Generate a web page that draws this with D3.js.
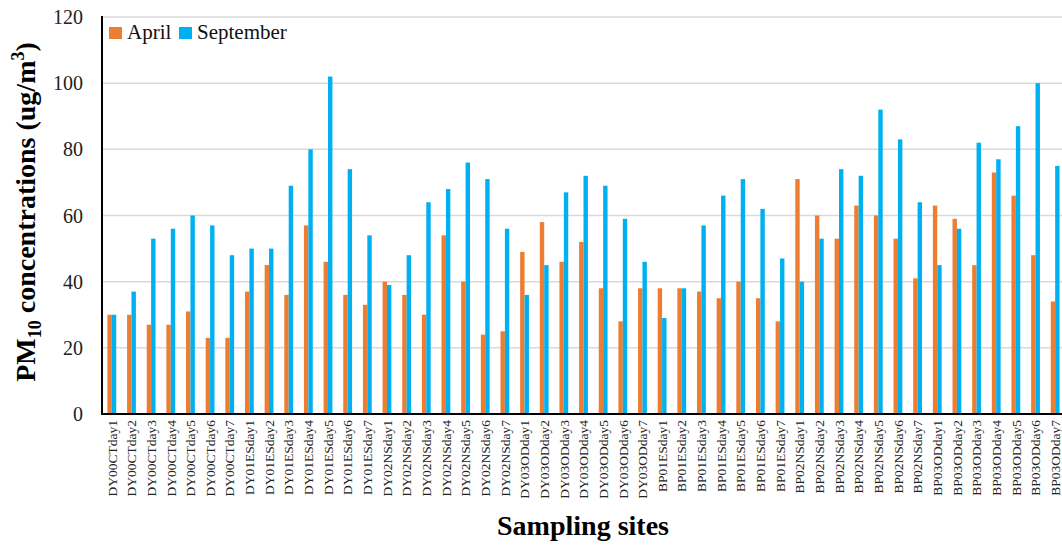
<!DOCTYPE html>
<html>
<head>
<meta charset="utf-8">
<script src="https://cdn.jsdelivr.net/npm/d3@7"></script>
<style>
  body { margin: 0; background: #fff; }
  svg { display: block; font-family: "Liberation Serif", "Times New Roman", serif; }
</style>
</head>
<body>
<svg id="chart" width="1062" height="545"></svg>
<script>
// sites: 7 days for each of 7 locations
const groups = ['DY00CT', 'DY01ES', 'DY02NS', 'DY03OD', 'BP01ES', 'BP02NS', 'BP03OD'];
const sites = [];
groups.forEach(function (g) {
  for (let i = 1; i <= 7; i++) sites.push(g + 'day' + i);
});

const april = [
  30, 30, 27, 27, 31, 23, 23,
  37, 45, 36, 57, 46, 36, 33,
  40, 36, 30, 54, 40, 24, 25,
  49, 58, 46, 52, 38, 28, 38,
  38, 38, 37, 35, 40, 35, 28,
  71, 60, 53, 63, 60, 53, 41,
  63, 59, 45, 73, 66, 48, 34
];
const september = [
  30, 37, 53, 56, 60, 57, 48,
  50, 50, 69, 80, 102, 74, 54,
  39, 48, 64, 68, 76, 71, 56,
  36, 45, 67, 72, 69, 59, 46,
  29, 38, 57, 66, 71, 62, 47,
  40, 53, 74, 72, 92, 83, 64,
  45, 56, 82, 77, 87, 100, 75
];
const seriesNames = ['April', 'September'];
const seriesColors = ['#ED7D31', '#00B0F0'];
const yTicks = [0, 20, 40, 60, 80, 100, 120];

const svg = d3.select('#chart');
const pLeft = 102, pRight = 1065, pTop = 17, pBottom = 414;

const x0 = d3.scaleBand().domain(sites).range([pLeft, pRight]).padding(0);
const bw = x0.bandwidth();
const x1 = d3.scaleBand().domain(seriesNames).range([bw / 2 - 4.4, bw / 2 + 4.4]);
const y = d3.scaleLinear().domain([0, 120]).range([pBottom, pTop]);

// gridlines
svg.append('g')
  .selectAll('line')
  .data(yTicks.filter(d => d > 0))
  .enter().append('line')
  .attr('x1', pLeft).attr('x2', pRight)
  .attr('y1', d => y(d)).attr('y2', d => y(d))
  .attr('stroke', '#d9d9d9')
  .attr('stroke-width', 1.5);

// y tick labels
svg.append('g')
  .selectAll('text')
  .data(yTicks)
  .enter().append('text')
  .attr('x', pLeft - 19)
  .attr('y', d => y(d))
  .attr('dy', '0.35em')
  .attr('text-anchor', 'end')
  .attr('font-size', 20)
  .attr('fill', '#222')
  .text(d => d);

// bars
const rows = sites.map((s, i) => ({ site: s, vals: [april[i], september[i]] }));
const cat = svg.append('g')
  .selectAll('g')
  .data(rows)
  .enter().append('g')
  .attr('transform', d => 'translate(' + x0(d.site) + ',0)');

cat.selectAll('rect')
  .data(d => d.vals.map((v, k) => ({ key: seriesNames[k], v: v, k: k })))
  .enter().append('rect')
  .attr('x', d => x1(d.key))
  .attr('width', x1.bandwidth())
  .attr('y', d => y(d.v))
  .attr('height', d => y(0) - y(d.v))
  .attr('fill', d => seriesColors[d.k]);

// axis lines
svg.append('line')
  .attr('x1', pLeft).attr('x2', pLeft)
  .attr('y1', pTop - 1).attr('y2', pBottom + 1)
  .attr('stroke', '#000').attr('stroke-width', 2);
svg.append('line')
  .attr('x1', pLeft - 1).attr('x2', pRight)
  .attr('y1', pBottom).attr('y2', pBottom)
  .attr('stroke', '#000').attr('stroke-width', 2);

// x category labels
svg.append('g')
  .selectAll('text')
  .data(sites)
  .enter().append('text')
  .attr('transform', d => 'translate(' + (x0(d) + bw / 2) + ',' + (pBottom + 6) + ') rotate(-90)')
  .attr('dy', '0.35em')
  .attr('text-anchor', 'end')
  .attr('font-size', 13.5)
  .attr('fill', '#222')
  .text(d => d);

// axis titles
svg.append('text')
  .attr('x', 583).attr('y', 535)
  .attr('text-anchor', 'middle')
  .attr('font-size', 28)
  .attr('font-weight', 'bold')
  .text('Sampling sites');

const yt = svg.append('text')
  .attr('transform', 'translate(35,212) rotate(-90)')
  .attr('text-anchor', 'middle')
  .attr('font-size', 28)
  .attr('font-weight', 'bold');
yt.append('tspan').text('PM');
yt.append('tspan').attr('font-size', 18).attr('dy', 6).text('10');
yt.append('tspan').attr('dy', -6).text(' concentrations (ug/m');
yt.append('tspan').attr('font-size', 18).attr('dy', -11).text('3');
yt.append('tspan').attr('dy', 11).text(')');

// legend
const leg = svg.append('g');
const legX = [109, 179];
seriesNames.forEach(function (name, k) {
  leg.append('rect')
    .attr('x', legX[k]).attr('y', 27)
    .attr('width', 13).attr('height', 12)
    .attr('fill', seriesColors[k]);
  leg.append('text')
    .attr('x', legX[k] + 18).attr('y', 39)
    .attr('font-size', 21)
    .attr('fill', '#111')
    .text(name);
});
</script>
</body>
</html>
